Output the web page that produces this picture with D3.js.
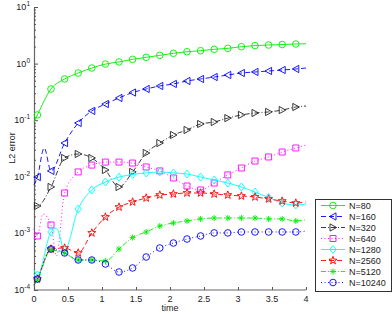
<!DOCTYPE html>
<html>
<head>
<meta charset="utf-8">
<script src="https://cdn.jsdelivr.net/npm/d3@7"></script>
<style>
body { margin: 0; background: #fff; }
svg { display: block; font-family: "Liberation Sans", Arial, sans-serif; }
</style>
</head>
<body>
<script>
(function () {
    //sample times where markers sit
    var tMarks = [0.05, 0.25, 0.45, 0.65, 0.85, 1.05, 1.25, 1.45, 1.65, 1.85,
                  2.05, 2.25, 2.45, 2.65, 2.85, 3.05, 3.25, 3.45, 3.65, 3.85];
    var seriesNames = ["N=80", "N=160", "N=320", "N=640", "N=1280", "N=2560", "N=5120", "N=10240"];

    //L2 error at the marker times
    var err80 = [0.124, 0.356, 0.535, 0.682, 0.836, 0.98, 1.07, 1.19, 1.29, 1.40,
                 1.52, 1.62, 1.69, 1.79, 1.86, 1.99, 2.08, 2.13, 2.17, 2.22];
    var err160 = [0.0099, 0.0127, 0.0395, 0.0893, 0.146, 0.193, 0.247, 0.308, 0.356, 0.402,
                  0.437, 0.493, 0.535, 0.579, 0.629, 0.682, 0.711, 0.740, 0.771, 0.803];
    var err320 = [0.00305, 0.00661, 0.0215, 0.0253, 0.0215, 0.0132, 0.00661, 0.0122, 0.0263, 0.0395,
                  0.0548, 0.0672, 0.0857, 0.0929, 0.109, 0.124, 0.134, 0.140, 0.151, 0.171];
    var err640 = [0.0009, 0.00141, 0.00518, 0.0122, 0.0161, 0.0182, 0.0182, 0.0175, 0.0149, 0.0127,
                  0.00953, 0.00687, 0.00585, 0.00776, 0.0108, 0.0143, 0.0190, 0.0224, 0.0274, 0.0323];
    var err1280 = [0.000184, 0.00106, 0.00051, 0.0027, 0.00585, 0.00809, 0.0099, 0.011, 0.0117, 0.0122,
                   0.0117, 0.0112, 0.0099, 0.00877, 0.00776, 0.00661, 0.00538, 0.0043, 0.00344, 0.00318];
    var err2560 = [0.000156, 0.00053, 0.000552, 0.000451, 0.00102, 0.00195, 0.00292, 0.00359, 0.00422, 0.00476,
                   0.00497, 0.00518, 0.00518, 0.00497, 0.00476, 0.00458, 0.0044, 0.00406, 0.00373, 0.00344];
    var err5120 = [0.00015, 0.00051, 0.000451, 0.000339, 0.000339, 0.000325, 0.00053, 0.000847, 0.00106, 0.00135,
                   0.00153, 0.00166, 0.0018, 0.00187, 0.00187, 0.00187, 0.00187, 0.0018, 0.0018, 0.00166];
    var err10240 = [0.000156, 0.00053, 0.000451, 0.000339, 0.000339, 0.000288, 0.000208, 0.000245, 0.000383, 0.000552,
                    0.000676, 0.000796, 0.0009, 0.00102, 0.00102, 0.00106, 0.00106, 0.00106, 0.00106, 0.00106];
    var allErr = [err80, err160, err320, err640, err1280, err2560, err5120, err10240];

    //line values at t = 0 and t = 4 (no marker there)
    var errStart = [0.093, 0.0072, 0.0032, 0.0012, 0.000225, 0.000122, 0.000122, 0.000122];
    var errEnd = [2.24, 0.836, 0.178, 0.0365, 0.0033, 0.00359, 0.00173, 0.0011];
    //extra wiggles of the lines between markers [time, error]
    var extraPts = [[], [[0.15, 0.0323]], [], [[0.13, 0.0022], [0.33, 0.0004]],
                    [[0.33, 0.00124]], [], [], []];

    var xTicks = [0, 0.5, 1, 1.5, 2, 2.5, 3, 3.5, 4];
    var yExp = [-4, -3, -2, -1, 0, 1];

    //styles
    var colors = ["#00ee00", "#0000ff", "#222222", "#ff00ff", "#00ffff", "#ff0000", "#00ee00", "#0000ff"];
    var dashes = [null, "5,3", "5,2,1,2", "1,2.5", null, "5,3", "5,2,1,2", "1,2.5"];
    var markers = ["circle", "triLeft", "triRight", "square", "diamond", "star", "asterisk", "circle"];

    var width = 392, height = 314;
    var svg = d3.select("body").append("svg")
        .attr("width", width)
        .attr("height", height);

    var x = d3.scaleLinear().domain([0, 4]).range([34, 306]);
    var y = d3.scaleLog().domain([1e-4, 10]).range([290, 7]);

    //axes
    var yAxis = d3.axisRight(y)
        .tickValues(d3.range(-4, 1).reduce(function (a, e) {
            for (var k = 1; k <= 9; k++) a.push(k * Math.pow(10, e));
            return a;
        }, []).concat([10]))
        .tickSize(0)
        .tickFormat("");
    var yg = svg.append("g").attr("transform", "translate(" + x(0) + ",0)").call(yAxis);
    yg.select(".domain").attr("stroke", "#666").attr("stroke-width", 1.2);
    yg.selectAll(".tick line")
        .attr("x2", function (d) { return Math.abs(Math.log10(d) % 1) < 1e-9 ? 4 : 2; })
        .attr("stroke", "#555");

    //y tick labels 10^e
    yExp.forEach(function (e) {
        var t = svg.append("text")
            .attr("x", 30)
            .attr("y", y(Math.pow(10, e)) + 3)
            .attr("text-anchor", "end")
            .attr("font-size", 9)
            .attr("fill", "#222");
        t.append("tspan").text("10");
        t.append("tspan").attr("dy", -4).attr("font-size", 6.5).text(e);
    });

    var xAxis = d3.axisTop(x).tickValues(xTicks).tickSize(3).tickFormat("");
    var xg = svg.append("g").attr("transform", "translate(0," + y(1e-4) + ")").call(xAxis);
    xg.select(".domain").attr("d", "M" + x(0) + ",0H" + x(4)).attr("stroke", "#666").attr("stroke-width", 1.2);
    xg.selectAll(".tick line").attr("stroke", "#555");
    svg.selectAll(".xlab").data(xTicks).enter().append("text")
        .attr("class", "xlab")
        .attr("x", function (d) { return x(d); })
        .attr("y", 302)
        .attr("text-anchor", "middle")
        .attr("font-size", 9)
        .attr("fill", "#222")
        .text(function (d) { return d; });

    svg.append("text")
        .attr("x", 170).attr("y", 311)
        .attr("text-anchor", "middle")
        .attr("font-size", 9)
        .attr("fill", "#222")
        .text("time");
    svg.append("text")
        .attr("transform", "translate(15,148) rotate(-90)")
        .attr("text-anchor", "middle")
        .attr("font-size", 9)
        .attr("fill", "#222")
        .text("L2 error");

    function markerPath(type) {
        if (type === "triLeft") return "M-3.6,0L3,-3.6L3,3.6Z";
        if (type === "triRight") return "M3.6,0L-3,-3.6L-3,3.6Z";
        if (type === "square") return "M-3,-3h6v6h-6Z";
        if (type === "diamond") return "M0,-4L3.2,0L0,4L-3.2,0Z";
        if (type === "asterisk") return "M-3,0H3M0,-3V3M-2.2,-2.2L2.2,2.2M-2.2,2.2L2.2,-2.2";
        if (type === "star") {
            var pts = [];
            for (var k = 0; k < 10; k++) {
                var r = k % 2 === 0 ? 4.2 : 1.7;
                var a = -Math.PI / 2 + k * Math.PI / 5;
                pts.push([r * Math.cos(a), r * Math.sin(a)]);
            }
            return "M" + pts.join("L") + "Z";
        }
        return null;
    }

    function addMarker(g, type, color, cx, cy) {
        if (type === "circle") {
            g.append("circle").attr("cx", cx).attr("cy", cy).attr("r", 3.3)
                .attr("fill", "none").attr("stroke", color).attr("stroke-width", 0.9);
        } else {
            g.append("path").attr("d", markerPath(type))
                .attr("transform", "translate(" + cx + "," + cy + ")")
                .attr("fill", "none").attr("stroke", color).attr("stroke-width", 0.9);
        }
    }

    var line = d3.line()
        .x(function (d) { return x(d[0]); })
        .y(function (d) { return y(d[1]); })
        .curve(d3.curveMonotoneX);

    var plot = svg.append("g");
    allErr.forEach(function (vals, i) {
        var pts = [[0, errStart[i]]].concat(extraPts[i], tMarks.map(function (t, j) {
            return [t, vals[j]];
        }), [[4, errEnd[i]]]);
        pts.sort(function (a, b) { return a[0] - b[0]; });
        var g = plot.append("g");
        g.append("path")
            .datum(pts)
            .attr("d", line)
            .attr("fill", "none")
            .attr("stroke", colors[i])
            .attr("stroke-width", 0.9)
            .attr("stroke-dasharray", dashes[i]);
        tMarks.forEach(function (t, j) {
            addMarker(g, markers[i], colors[i], x(t), y(vals[j]));
        });
    });

    //legend
    var leg = svg.append("g");
    leg.append("rect")
        .attr("x", 315.5).attr("y", 199.5)
        .attr("width", 76).attr("height", 92)
        .attr("fill", "#fff").attr("stroke", "#333").attr("stroke-width", 1);
    seriesNames.forEach(function (name, i) {
        var ry = 205.5 + i * 11;
        leg.append("line")
            .attr("x1", 321).attr("x2", 345).attr("y1", ry).attr("y2", ry)
            .attr("stroke", colors[i]).attr("stroke-width", 0.9)
            .attr("stroke-dasharray", dashes[i]);
        addMarker(leg, markers[i], colors[i], 333, ry);
        leg.append("text")
            .attr("x", 349).attr("y", ry + 3.2)
            .attr("font-size", 9)
            .attr("fill", "#222")
            .text(name);
    });
})();
</script>
</body>
</html>
